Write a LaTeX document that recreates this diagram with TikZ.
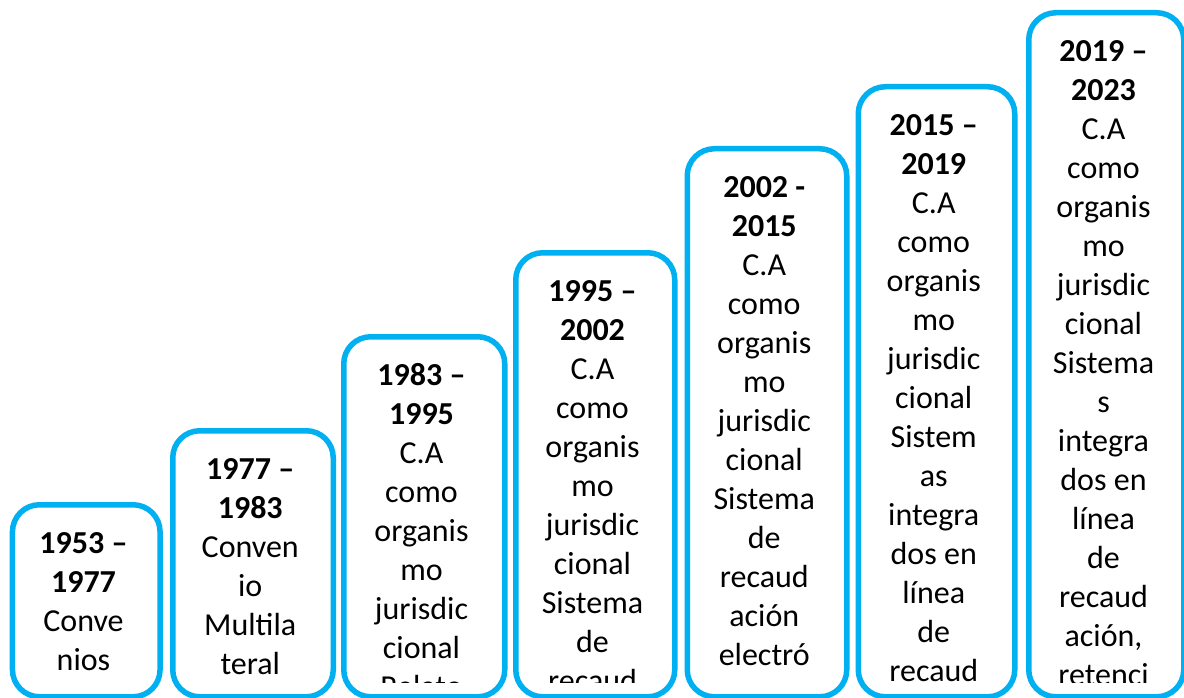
\documentclass[tikz,border=0pt]{standalone}
\usepackage{fontspec}
\setmainfont{Carlito}
\definecolor{boxblue}{RGB}{0,176,240}
\tikzset{
  stagebox/.style={draw=boxblue, line width=5.5pt, rounded corners=27pt, fill=white, anchor=north west, inner sep=0pt},
  stagetext/.style={anchor=north, inner sep=0pt, align=center, font=\fontsize{32}{39}\selectfont, text=black}
}
\newcommand{\firstline}{\rule{0pt}{22pt}}
\begin{document}
\begin{tikzpicture}[x=1pt,y=-1pt]
\useasboundingbox (0,0) rectangle (1184,698);
% boxes
\node[stagebox, minimum width=147.6pt, minimum height=192pt] (b1) at (9.7,502) {};
\node[stagebox, minimum width=160.5pt, minimum height=266pt] (b2) at (170,428) {};
\node[stagebox, minimum width=161pt, minimum height=360pt] (b3) at (341,334) {};
\node[stagebox, minimum width=159pt, minimum height=444pt] (b4) at (513,250) {};
\node[stagebox, minimum width=159.5pt, minimum height=548pt] (b5) at (684.5,146) {};
\node[stagebox, minimum width=156.5pt, minimum height=610pt] (b6) at (855.5,84) {};
\node[stagebox, minimum width=155pt, minimum height=684pt] (b7) at (1026,10) {};
% texts
\begin{scope}
\clip (12,505) rectangle (155,682);
\node[stagetext] (t1) at (83.5,531) {\firstline\textbf{1953 –}\\\textbf{1977}\\Conve\\nios};
\end{scope}
\begin{scope}
\clip (173,431) rectangle (328,682);
\node[stagetext] (t2) at (250.25,457) {\firstline\textbf{1977 –}\\\textbf{1983}\\Conven\\io\\Multila\\teral};
\end{scope}
\begin{scope}
\clip (344,337) rectangle (499,682);
\node[stagetext] (t3) at (421.5,363) {\firstline\textbf{1983 –}\\\textbf{1995}\\C.A\\como\\organis\\mo\\jurisdic\\cional\\Relato};
\end{scope}
\begin{scope}
\clip (516,253) rectangle (669,682);
\node[stagetext] (t4) at (592.5,279) {\firstline\textbf{1995 –}\\\textbf{2002}\\C.A\\como\\organis\\mo\\jurisdic\\cional\\Sistema\\de\\recaud};
\end{scope}
\begin{scope}
\clip (687,149) rectangle (841,682);
\node[stagetext] (t5) at (764.25,175) {\firstline\textbf{2002 -}\\\textbf{2015}\\C.A\\como\\organis\\mo\\jurisdic\\cional\\Sistema\\de\\recaud\\ación\\electró};
\end{scope}
\begin{scope}
\clip (858,87) rectangle (1009,682);
\node[stagetext] (t6) at (933.75,113) {\firstline\textbf{2015 –}\\\textbf{2019}\\C.A\\como\\organis\\mo\\jurisdic\\cional\\Sistem\\as\\integra\\dos en\\línea\\de\\recaud};
\end{scope}
\begin{scope}
\clip (1029,13) rectangle (1178,682);
\node[stagetext] (t7) at (1103.5,39) {\firstline\textbf{2019 –}\\\textbf{2023}\\C.A\\como\\organis\\mo\\jurisdic\\cional\\Sistema\\s\\integra\\dos en\\línea\\de\\recaud\\ación,\\retenci};
\end{scope}
\end{tikzpicture}
\end{document}
